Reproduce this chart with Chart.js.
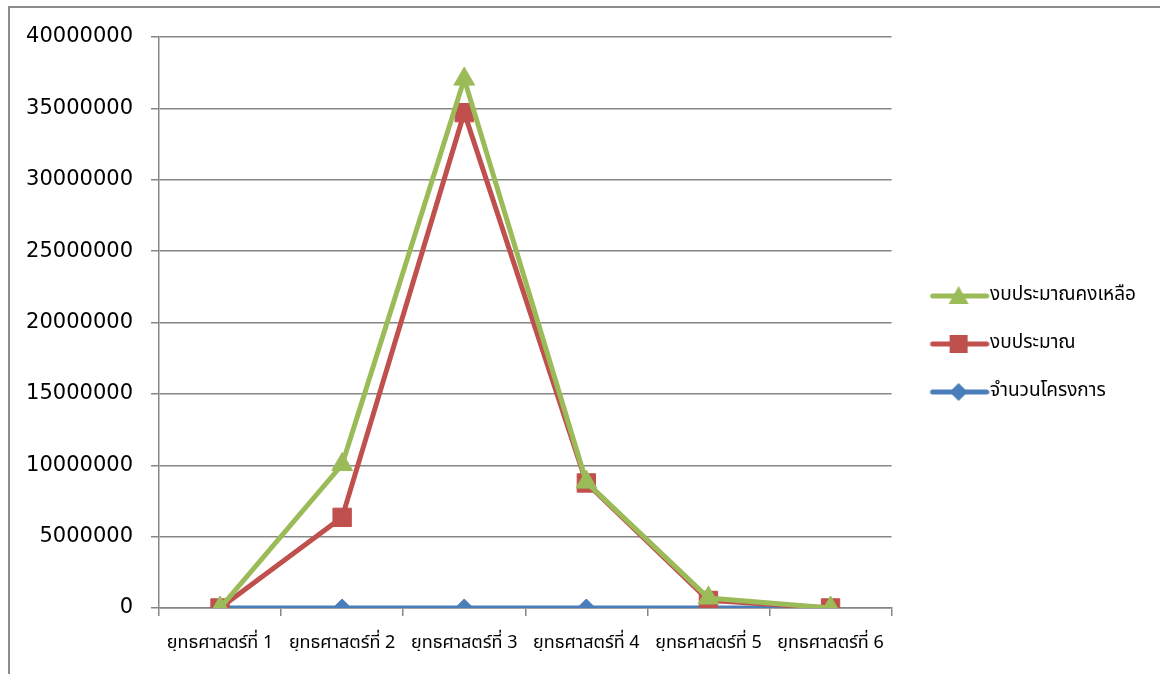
<!DOCTYPE html>
<html>
<head>
<meta charset="utf-8">
<script src="https://cdn.jsdelivr.net/npm/chart.js"></script>
<style>
  body { margin: 0; background: #fff; }
  #wrap { width: 1160px; height: 674px; position: relative; }
</style>
</head>
<body>
<div id="wrap"><canvas id="chart"></canvas></div>
<script>
// categories and series
const categories = ['ยุทธศาสตร์ที่ 1', 'ยุทธศาสตร์ที่ 2', 'ยุทธศาสตร์ที่ 3', 'ยุทธศาสตร์ที่ 4', 'ยุทธศาสตร์ที่ 5', 'ยุทธศาสตร์ที่ 6'];
const remaining = [0, 10050000, 37050000, 8820000, 700000, 0];   // งบประมาณคงเหลือ
const budget = [0, 6350000, 34700000, 8760000, 530000, 0];       // งบประมาณ
const projects = [4, 12, 25, 9, 3, 1];                           // จำนวนโครงการ
const yTicks = [0, 5000000, 10000000, 15000000, 20000000, 25000000, 30000000, 35000000, 40000000];

const thaiFont = "Tahoma, 'Noto Sans Thai', 'Noto Sans', 'DejaVu Sans', sans-serif";

// small canvas with line + marker for the legend
function legendIcon(color, style) {
    const c = document.createElement('canvas');
    c.width = 78; c.height = 24;
    const g = c.getContext('2d');
    g.strokeStyle = color; g.fillStyle = color;
    g.lineWidth = 5; g.lineCap = 'round';
    g.beginPath(); g.moveTo(21, 12); g.lineTo(75, 12); g.stroke();
    g.beginPath();
    const cx = 47;
    if (style === 'triangle') {
        g.moveTo(cx, 2); g.lineTo(cx + 10, 20); g.lineTo(cx - 10, 20);
    } else if (style === 'rect') {
        g.rect(cx - 9, 3, 18, 18);
    } else {
        g.moveTo(cx, 3); g.lineTo(cx + 9, 12); g.lineTo(cx, 21); g.lineTo(cx - 9, 12);
    }
    g.closePath(); g.fill();
    return c;
}

const borderBox = {
    id: 'borderBox',
    beforeDraw(chart) {
        const ctx = chart.ctx;
        ctx.save();
        ctx.strokeStyle = '#8c8c8c';
        ctx.lineWidth = 2;
        ctx.beginPath();
        ctx.moveTo(9, 700);
        ctx.lineTo(9, 7);
        ctx.lineTo(1170, 7);
        ctx.stroke();
        ctx.restore();
    }
};

const series = [
    { label: 'งบประมาณคงเหลือ', data: remaining, color: '#9BBB59', style: 'triangle', r: 12 },
    { label: 'งบประมาณ', data: budget, color: '#C0504D', style: 'rect', r: 13 },
    { label: 'จำนวนโครงการ', data: projects, color: '#4A7EBB', style: 'rectRot', r: 9 }
];

const ctx = document.getElementById('chart').getContext('2d');
const chart = new Chart(ctx, {
    type: 'line',
    data: {
        labels: categories,
        datasets: series.map(s => ({
            label: s.label,
            data: s.data,
            borderColor: s.color,
            backgroundColor: s.color,
            borderWidth: 5,
            pointStyle: s.style,
            pointRadius: s.r,
            pointBorderWidth: 1,
            pointBackgroundColor: s.color,
            pointBorderColor: s.color,
            tension: 0,
            fill: false
        }))
    },
    options: {
        responsive: true,
        maintainAspectRatio: false,
        animation: false,
        layout: { padding: { top: 37, left: 0, right: 14, bottom: 23 } },
        scales: {
            x: {
                offset: true,
                grid: { offset: true, drawOnChartArea: false, color: '#868686', lineWidth: 1.5, tickLength: 8 },
                border: { color: '#868686', width: 1.5 },
                ticks: { color: '#000', padding: 18, maxRotation: 0, font: { family: thaiFont, size: 18 } },
                afterFit(scale) { scale.height = 43; }
            },
            y: {
                min: 0,
                max: 40000000,
                afterBuildTicks(scale) { scale.ticks = yTicks.map(v => ({ value: v })); },
                grid: { color: '#868686', lineWidth: 1.5, tickLength: 8 },
                border: { color: '#868686', width: 1.5 },
                ticks: { color: '#000', padding: 18, font: { family: "'DejaVu Sans', sans-serif", size: 21 },
                    callback: v => String(v) },
                afterFit(scale) { scale.width = 159; }
            }
        },
        plugins: {
            legend: {
                position: 'right',
                labels: {
                    color: '#000',
                    font: { family: thaiFont, size: 19 },
                    usePointStyle: true,
                    pointStyleWidth: 60,
                    padding: 29,
                    generateLabels(chart) {
                        return series.map((s, i) => ({
                            text: s.label,
                            pointStyle: legendIcon(s.color, s.style),
                            fillStyle: s.color,
                            strokeStyle: s.color,
                            lineWidth: 0,
                            datasetIndex: i,
                            hidden: false
                        }));
                    }
                }
            },
            tooltip: { enabled: false }
        }
    },
    plugins: [borderBox]
});
</script>
</body>
</html>
